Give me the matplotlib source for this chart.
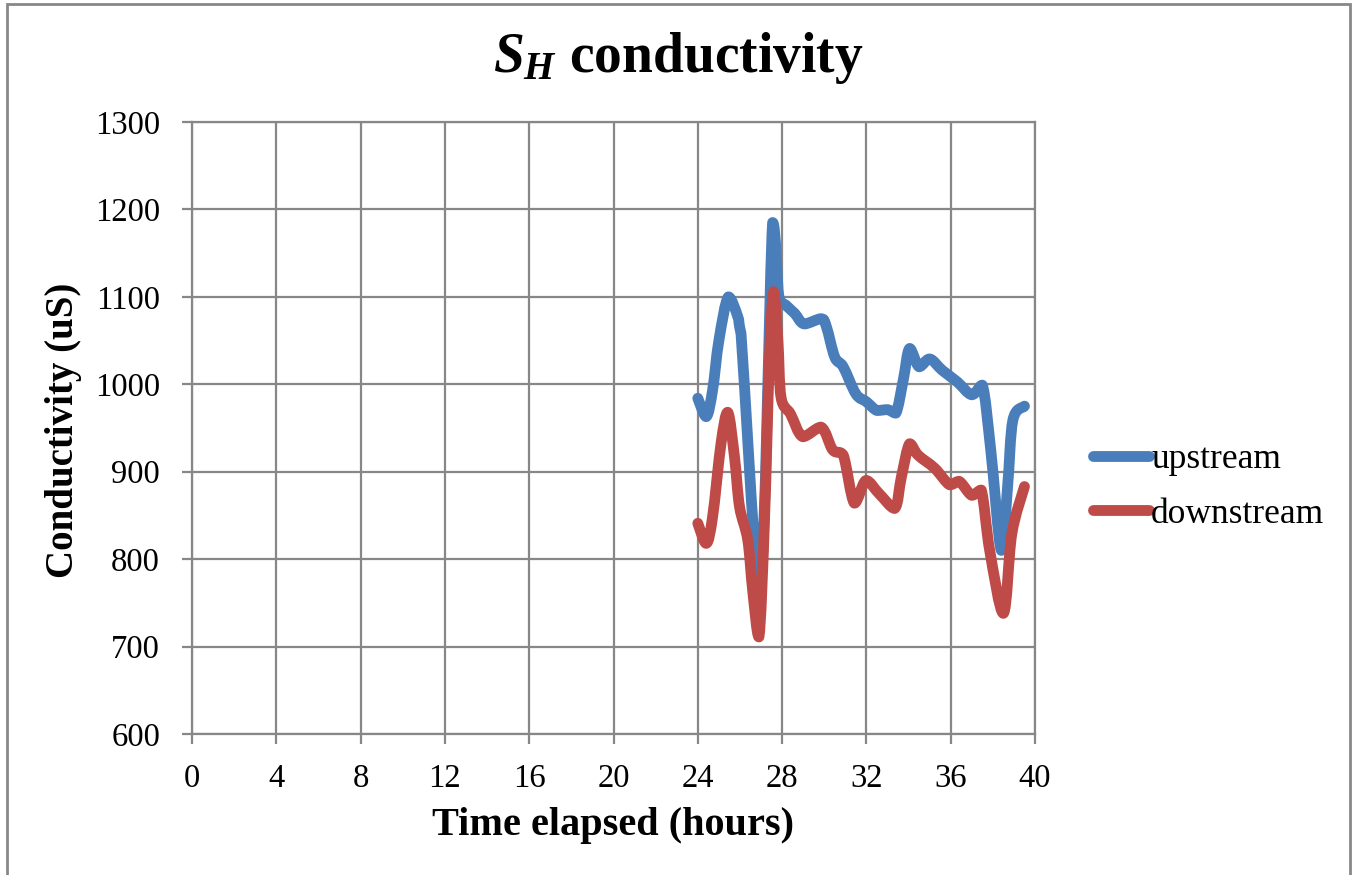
import matplotlib
matplotlib.use('Agg')
import matplotlib.pyplot as plt
import numpy as np
from matplotlib.patches import Rectangle, PathPatch
from matplotlib.path import Path
from matplotlib.lines import Line2D

# conductivity readings at the two probes
up_hours = [24.0, 24.4, 24.7, 25.0, 25.45, 25.9, 26.05, 26.95, 27.55, 27.85,
            28.2, 28.6, 29.05, 29.85, 30.1, 30.5, 30.9, 31.5, 32.0, 32.5,
            33.0, 33.4, 33.75, 34.05, 34.5, 35.0, 35.6, 36.3, 37.0, 37.5,
            37.9, 38.4, 38.7, 38.95, 39.5]
up_values = [984, 963, 993, 1050, 1100, 1077, 1058, 768, 1185, 1100,
             1090, 1081, 1069, 1075, 1066, 1031, 1020, 989, 980, 970,
             971, 967, 1005, 1041, 1020, 1029, 1016, 1003, 988, 999,
             925, 810, 883, 959, 975]

down_hours = [24.0, 24.4, 24.7, 25.1, 25.42, 25.74, 25.98, 26.37, 26.6, 26.9,
              27.16, 27.4, 27.6, 27.8, 27.95, 28.4, 28.98, 29.85, 30.4, 30.9,
              31.43, 31.98, 32.6, 33.34, 33.66, 34.05, 34.45, 35.24, 35.95, 36.4,
              37.0, 37.45, 37.85, 38.5, 38.9, 39.5]
down_values = [841, 818, 848, 932, 968, 917, 860, 822, 765, 711,
               841, 1031, 1106, 1050, 985, 966, 940, 951, 925, 919,
               864, 890, 875, 858, 894, 932, 919, 904, 885, 889,
               873, 879, 810, 738, 829, 883]

x_ticks = list(range(0, 41, 4))
y_ticks = list(range(600, 1301, 100))

plt.rcParams['font.family'] = 'Liberation Serif'
plt.rcParams['mathtext.fontset'] = 'custom'
plt.rcParams['mathtext.it'] = 'Liberation Serif:italic:bold'
plt.rcParams['mathtext.rm'] = 'Liberation Serif:bold'


def smooth_path(xs, ys):
    # cardinal spline through the readings, as cubic bezier segments;
    # control points are kept within each segment's y range (no overshoot)
    p = np.column_stack([xs, ys]).astype(float)
    verts = [p[0]]
    codes = [Path.MOVETO]
    n = len(p)
    for i in range(n - 1):
        p0 = p[i - 1] if i > 0 else p[i]
        p3 = p[i + 2] if i + 2 < n else p[i + 1]
        c1 = p[i] + (p[i + 1] - p0) / 6
        c2 = p[i + 1] - (p3 - p[i]) / 6
        lo, hi = sorted((p[i][1], p[i + 1][1]))
        c1[1] = min(max(c1[1], lo), hi)
        c2[1] = min(max(c2[1], lo), hi)
        verts += [c1, c2, p[i + 1]]
        codes += [Path.CURVE4] * 3
    return Path(verts, codes)


W, H = 1357, 875
fig = plt.figure(figsize=(W / 100, H / 100), dpi=100)
ax = fig.add_axes([192 / W, 1 - 734 / H, (1035 - 192) / W, (734 - 122) / H])

grid_c = '#878787'
series = [(up_hours, up_values, '#4A7EBB', 'upstream'),
          (down_hours, down_values, '#BE4B48', 'downstream')]
handles = []
for k, (xs, ys, col, name) in enumerate(series):
    ax.add_patch(PathPatch(smooth_path(xs, ys), fill=False, edgecolor=col,
                           lw=7.8, capstyle='round', joinstyle='round',
                           zorder=3 + k))
    handles.append(Line2D([], [], color=col, lw=7.8, solid_capstyle='round',
                          label=name))

ax.set_xlim(0, 40)
ax.set_ylim(600, 1300)
ax.set_xticks(x_ticks)
ax.set_yticks(y_ticks)
ax.grid(True, color=grid_c, lw=1.6)
ax.set_axisbelow(True)
for s in ax.spines.values():
    s.set_color(grid_c)
    s.set_linewidth(1.6)
ax.tick_params(direction='out', length=7, width=1.6, color=grid_c,
               labelsize=23.5, pad=14)
ax.tick_params(axis='y', pad=16)

fig.text(0.5, 1 - 58 / H, r'$S_H$ conductivity', ha='center', va='center',
         fontsize=40, fontweight='bold')
fig.text(613 / W, 1 - 825 / H, 'Time elapsed (hours)', ha='center', va='center',
         fontsize=29, fontweight='bold')
fig.text(64 / W, 1 - 430 / H, 'Conductivity (uS)', ha='center', va='center',
         fontsize=28, fontweight='bold', rotation=90)

fig.legend(handles=handles, loc='center left',
           bbox_to_anchor=(1075 / W, 1 - 487 / H),
           frameon=False, fontsize=25.5, handlelength=1.6, handletextpad=0.05,
           labelspacing=0.6, borderpad=0)

# chart frame
fig.patches.append(Rectangle((7 / W, -0.05), (1350 - 7) / W, 1.05 - 4 / H,
                             transform=fig.transFigure, fill=False,
                             edgecolor='#888888', lw=2))

fig.savefig('out.png', dpi=100)
